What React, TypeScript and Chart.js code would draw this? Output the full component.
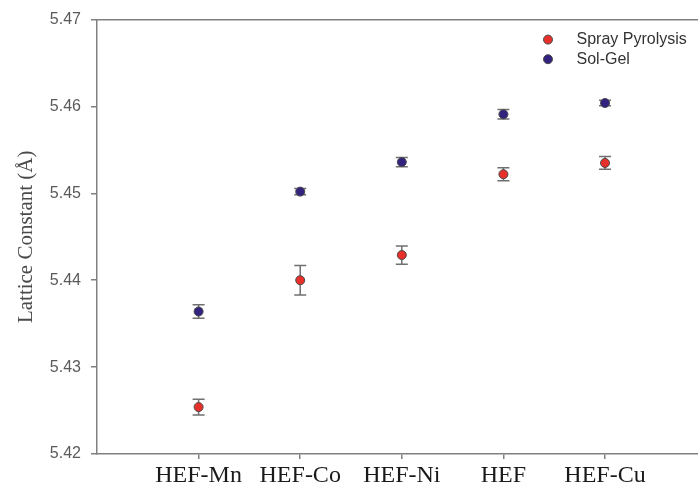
import React, { useEffect, useRef } from 'react';
import { Chart, registerables } from 'chart.js';

Chart.register(...registerables);

const categories = ['HEF-Mn', 'HEF-Co', 'HEF-Ni', 'HEF', 'HEF-Cu'];
const categoryPositions = [1, 2, 3, 4, 5];
const sprayValues = [5.4254, 5.44, 5.4429, 5.4522, 5.4535];
const sprayErrors = [0.0009, 0.0017, 0.00105, 0.00076, 0.00073];
const solGelValues = [5.4364, 5.4502, 5.4536, 5.4591, 5.4604];
const solGelErrors = [0.00077, 0.00035, 0.00054, 0.00055, 0.00033];
const yMin = 5.42;
const yMax = 5.47;
const yStep = 0.01;
const xMin = 0;
const xMax = 5.92;
const seriesNames = ['Spray Pyrolysis', 'Sol-Gel'];
const seriesColors = ['#e8302a', '#33227e'];

const AXIS = '#808080';
const SERIF = '"Liberation Serif", "Times New Roman", serif';
const SANS = '"Liberation Sans", Arial, sans-serif';

const errorBarPlugin = {
  id: 'errorBars',
  beforeDatasetsDraw(chart: any) {
    const { ctx } = chart;
    const xs = chart.scales.x;
    const ys = chart.scales.y;
    const errs = [sprayErrors, solGelErrors];
    const vals = [sprayValues, solGelValues];
    ctx.save();
    ctx.strokeStyle = '#707070';
    ctx.lineWidth = 1.5;
    vals.forEach((arr, si) => {
      arr.forEach((v, i) => {
        const px = xs.getPixelForValue(categoryPositions[i]);
        const top = ys.getPixelForValue(v + errs[si][i]);
        const bot = ys.getPixelForValue(v - errs[si][i]);
        const cap = 6;
        ctx.beginPath();
        ctx.moveTo(px, top);
        ctx.lineTo(px, bot);
        ctx.moveTo(px - cap, top);
        ctx.lineTo(px + cap, top);
        ctx.moveTo(px - cap, bot);
        ctx.lineTo(px + cap, bot);
        ctx.stroke();
      });
    });
    ctx.restore();
  },
};

const legendPlugin = {
  id: 'customLegend',
  afterDraw(chart: any) {
    const { ctx, chartArea } = chart;
    const mx = chartArea.left + 451;
    const y0 = chartArea.top + 20;
    const gap = 19.6;
    ctx.save();
    seriesNames.forEach((name, i) => {
      const y = y0 + i * gap;
      ctx.beginPath();
      ctx.arc(mx, y, 4.5, 0, Math.PI * 2);
      ctx.fillStyle = seriesColors[i];
      ctx.fill();
      ctx.lineWidth = 1;
      ctx.strokeStyle = '#4a4a4a';
      ctx.stroke();
      ctx.fillStyle = '#333333';
      ctx.font = `16px ${SANS}`;
      ctx.textBaseline = 'middle';
      ctx.textAlign = 'left';
      ctx.fillText(name, mx + 28.5, y);
    });
    ctx.restore();
  },
};

export default function App() {
  const ref = useRef<HTMLCanvasElement | null>(null);

  useEffect(() => {
    if (!ref.current) return;
    const chart = new Chart(ref.current, {
      type: 'scatter',
      data: {
        datasets: [
          {
            label: seriesNames[0],
            data: sprayValues.map((v, i) => ({ x: categoryPositions[i], y: v })),
            backgroundColor: seriesColors[0],
            borderColor: '#4a4a4a',
            borderWidth: 1,
            pointRadius: 4.5,
          },
          {
            label: seriesNames[1],
            data: solGelValues.map((v, i) => ({ x: categoryPositions[i], y: v })),
            backgroundColor: seriesColors[1],
            borderColor: '#4a4a4a',
            borderWidth: 1,
            pointRadius: 4.5,
          },
        ],
      },
      options: {
        animation: false,
        responsive: false,
        layout: { padding: 0 },
        plugins: { legend: { display: false }, tooltip: { enabled: false } },
        scales: {
          x: {
            type: 'linear',
            position: 'bottom',
            min: xMin,
            max: xMax,
            afterBuildTicks: (s: any) => {
              s.ticks = categoryPositions.map((v) => ({ value: v }));
            },
            ticks: {
              callback: (v: any) => {
                const idx = categoryPositions.indexOf(Number(v));
                return idx >= 0 ? categories[idx] : '';
              },
              font: { family: SERIF, size: 24 },
              color: '#1a1a1a',
              padding: 2,
              maxRotation: 0,
              autoSkip: false,
            },
            grid: { drawOnChartArea: false, drawTicks: true, tickLength: 5, color: AXIS, lineWidth: 1.5 },
            border: { display: true, color: AXIS, width: 1.5 },
            afterFit: (s: any) => {
              s.height = 32;
            },
          },
          xTop: {
            type: 'linear',
            position: 'top',
            min: xMin,
            max: xMax,
            ticks: { display: false },
            grid: { display: false },
            border: { display: true, color: AXIS, width: 1.5 },
            afterFit: (s: any) => {
              s.height = 16;
            },
          },
          y: {
            type: 'linear',
            min: yMin,
            max: yMax,
            ticks: {
              stepSize: yStep,
              callback: (v: any) => Number(v).toFixed(2),
              font: { family: SANS, size: 16 },
              color: '#5a5a5a',
              padding: 10,
            },
            grid: { drawOnChartArea: false, drawTicks: true, tickLength: 6, color: AXIS, lineWidth: 1.5 },
            border: { display: true, color: AXIS, width: 1.5 },
            title: {
              display: true,
              text: 'Lattice Constant (Å)',
              font: { family: SERIF, size: 21 },
              color: '#4a4a4a',
              padding: { top: 14, bottom: 0 },
            },
            afterFit: (s: any) => {
              s.width = 97;
            },
          },
        },
      },
      plugins: [errorBarPlugin, legendPlugin],
    } as any);
    return () => chart.destroy();
  }, []);

  return (
    <div style={{ position: 'absolute', left: 0, top: 0, width: 698, height: 486, background: '#fff', overflow: 'hidden' }}>
      <canvas ref={ref} width={704} height={486} style={{ display: 'block' }} />
    </div>
  );
}
